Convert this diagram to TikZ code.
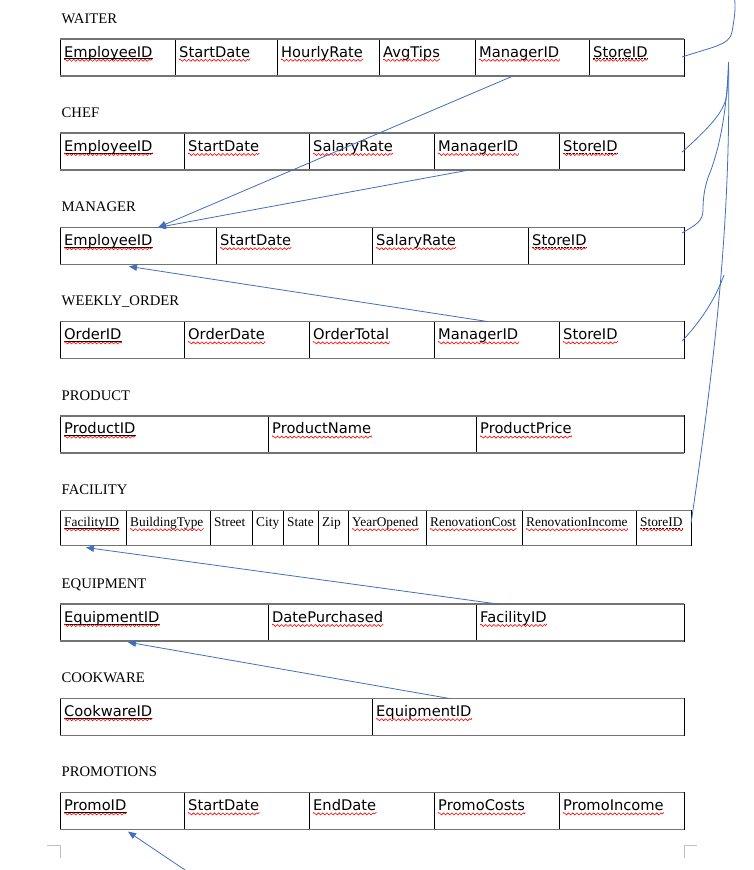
\documentclass[tikz,border=0pt]{standalone}
\usepackage{fontspec}
\setmainfont{Liberation Serif}
\newfontfamily\cellfont{DejaVu Sans}
\usetikzlibrary{arrows.meta,decorations.pathmorphing}
\definecolor{linkblue}{RGB}{65,110,190}
\tikzset{>={Triangle[length=8pt,width=6.5pt]}}
\tikzset{
  heading/.style={anchor=base west, inner sep=0pt, font=\fontsize{14.67pt}{17pt}\selectfont},
  cell/.style={draw=black, line width=0.7pt, anchor=north west, inner sep=0pt, outer sep=0pt},
  rowline/.style={draw=black!55, line width=1.6pt},
  field/.style={anchor=base west, inner sep=0pt, xshift=4pt, yshift=-18pt, font=\cellfont\fontsize{14.67pt}{17pt}\selectfont},
  smallfield/.style={anchor=base west, inner sep=0pt, xshift=4pt, yshift=-16pt, font=\fontsize{13.33pt}{16pt}\selectfont},
  spell/.style={draw=red, solid, line width=0.6pt, decorate, decoration={snake, amplitude=1pt, segment length=4.2pt, raise=-1.6pt}},
  pk/.style={draw=black, line width=0.6pt, postaction={spell}},
  fk/.style={draw=black, line width=0.6pt, dash pattern=on 2pt off 1.2pt, postaction={spell}},
  nomark/.style={draw=none},
  link/.style={draw=linkblue, line width=0.8pt},
  corner/.style={draw=black!25, line width=0.8pt}
}
% #1 name, #2 heading, #3 top, #4 height, #5 field style, #6 cells x/w/text/underline
\newcommand{\entity}[6]{
  \node[heading] (#1) at (61.5,#3-15.7) {#2};
  \foreach \x/\w/\txt/\u [count=\i] in {#6} {
    \node[cell, minimum width=\w pt, minimum height=#4pt] (#1\i) at (\x,#3) {};
    \node[#5] (#1t\i) at (#1\i.north west) {\txt};
    \draw[\u] ([yshift=-1.7pt]#1t\i.base west) -- ([yshift=-1.7pt]#1t\i.base east);
    \draw[rowline] (#1\i.north west) -- (#1\i.north east) (#1\i.south west) -- (#1\i.south east);
  }
}

\begin{document}
\begin{tikzpicture}[x=1pt,y=-1pt]
\useasboundingbox (0,0) rectangle (754,870);

\entity{waiter}{WAITER}{39}{37}{field}{60/115/EmployeeID/pk, 175/102/StartDate/spell, 277/102/HourlyRate/spell, 379/96/AvgTips/spell, 475/114/ManagerID/spell, 589/95/StoreID/fk}
\entity{chef}{CHEF}{133.2}{37}{field}{60/124/EmployeeID/pk, 184/125/StartDate/spell, 309/125/SalaryRate/spell, 434/125/ManagerID/spell, 559/125/StoreID/fk}
\entity{manager}{MANAGER}{227.4}{37}{field}{60/156/EmployeeID/pk, 216/156/StartDate/spell, 372/156/SalaryRate/spell, 528/156/StoreID/fk}
\entity{order}{WEEKLY\_ORDER}{321.6}{37}{field}{60/124/OrderID/pk, 184/125/OrderDate/spell, 309/125/OrderTotal/spell, 434/125/ManagerID/spell, 559/125/StoreID/spell}
\entity{product}{PRODUCT}{415.8}{37}{field}{60/208/ProductID/pk, 268/208/ProductName/spell, 476/208/ProductPrice/spell}
\entity{facility}{FACILITY}{510.5}{35}{smallfield}{60/66/FacilityID/pk, 126/84/BuildingType/spell, 210/42/Street/nomark, 252/31/City/nomark, 283/35/State/nomark, 318/30/Zip/nomark, 348/78/YearOpened/spell, 426/96/RenovationCost/spell, 522/114/RenovationIncome/spell, 636/55/StoreID/fk}
\entity{equip}{EQUIPMENT}{604.2}{37}{field}{60/208/EquipmentID/pk, 268/208/DatePurchased/spell, 476/208/FacilityID/spell}
\entity{cook}{COOKWARE}{698.4}{37}{field}{60/312/CookwareID/pk, 372/312/EquipmentID/spell}
\entity{promo}{PROMOTIONS}{792.6}{37}{field}{60/124/PromoID/pk, 184/125/StartDate/spell, 309/125/EndDate/spell, 434/125/PromoCosts/spell, 559/125/PromoIncome/spell}

% manager / facility / equipment links
\draw[link,->] ([xshift=38pt]waiter5.south west) -- ([xshift=98pt]manager1.north west);
\draw[link,->] ([xshift=34pt]chef4.south west) -- ([xshift=98pt]manager1.north west);
\draw[link,->] ([xshift=54pt]order4.north west) -- ([xshift=69pt,yshift=-2pt]manager1.south west);
\draw[link,->] ([xshift=23pt]equip3.north west) -- ([xshift=26pt,yshift=-2pt]facility1.south west);
\draw[link,->] ([xshift=77pt]cook2.north west) -- ([xshift=68pt,yshift=-1pt]equip1.south west);
\coordinate (promoIn) at (188,872);
\draw[link,->] (promoIn) -- ([xshift=68pt,yshift=-2pt]promo1.south west);

% store links on the right
\coordinate (hub) at (728.5,62);
\coordinate (offTop) at (734.5,-2);
\coordinate (orderEnd) at (724,275);
\draw[link] ([xshift=-2pt,yshift=-18pt]waiter6.north east) .. controls (712,47) and (730,45) .. (732,32) .. controls (734,20) and (736,10) .. (offTop);
\draw[link] ([xshift=-2pt,yshift=-19pt]chef5.north east) .. controls (712,125) and (726,110) .. (727,92) .. controls (728,80) and (728.5,70) .. (hub);
\draw[link] ([xshift=-2pt,yshift=-5.5pt]manager4.north east) .. controls (696,225) and (703,221) .. (703,210) .. controls (703,196) and (705,184) .. (711,170) .. controls (720,145) and (727,110) .. (hub);
\draw[link] ([xshift=-2pt,yshift=-19.5pt]order5.north east) .. controls (700,322) and (715,300) .. (orderEnd);
\draw[link] (hub) .. controls (731,220) and (715,360) .. ([yshift=-13pt]facility10.north east);

% page corner marks
\draw[corner] (47,845.5) -- (60,845.5) -- (60,858);
\draw[corner] (684,858) -- (684,845.5) -- (697,845.5);
\end{tikzpicture}
\end{document}
